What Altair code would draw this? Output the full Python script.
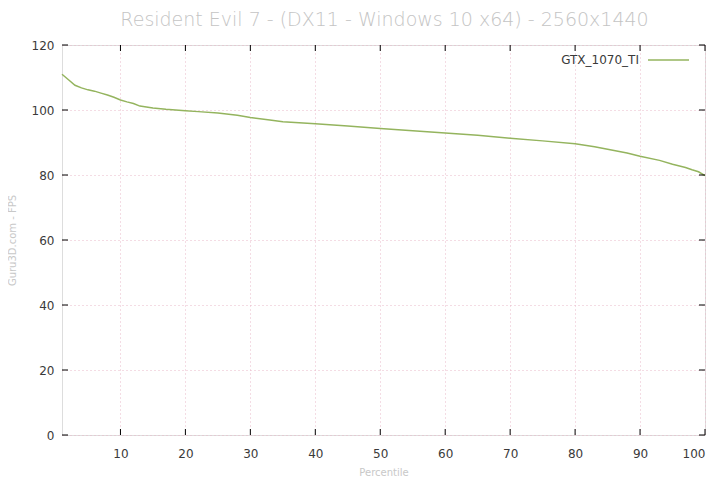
import altair as alt
import pandas as pd

percentile = [1, 2, 3, 4, 5, 6, 7, 8, 9, 10, 11, 12, 13, 15, 17, 20, 22, 25, 28, 30, 33, 35, 40, 45, 50, 55, 60, 65, 70, 75, 80, 83, 85, 88, 90, 93, 95, 97, 98, 99, 100]
fps = [111.0, 109.3, 107.6, 106.8, 106.2, 105.8, 105.2, 104.6, 103.9, 103.1, 102.5, 102.0, 101.2, 100.6, 100.2, 99.8, 99.5, 99.1, 98.4, 97.7, 96.9, 96.4, 95.8, 95.1, 94.3, 93.6, 92.9, 92.2, 91.3, 90.5, 89.6, 88.7, 87.9, 86.8, 85.8, 84.5, 83.3, 82.3, 81.6, 81.0, 79.8]
x_ticks = [10, 20, 30, 40, 50, 60, 70, 80, 90, 100]
y_ticks = [0, 20, 40, 60, 80, 100, 120]
series_name = "GTX_1070_TI"
title_text = "Resident Evil 7 - (DX11 - Windows 10 x64) - 2560x1440"

df = pd.DataFrame({"Percentile": percentile, "FPS": fps, "series": series_name})

W, H = 643, 390

axis_common = dict(
    grid=True,
    gridColor="#e8b8c8",
    gridDash=[1, 3],
    gridWidth=1,
    domain=False,
    ticks=False,
    labelColor="#3a3a3a",
    labelFont="DejaVu Sans",
    labelFontSize=12,
    titleColor="#c8c8c8",
    titleFont="DejaVu Sans",
    titleFontSize=10,
    titleFontWeight="normal",
)

xs = alt.Scale(domain=[1, 100], nice=False, zero=False)
ys = alt.Scale(domain=[0, 120], nice=False)

line = alt.Chart(df).mark_line(color="#94b45e", strokeWidth=1.5).encode(
    x=alt.X("Percentile:Q", scale=xs,
            axis=alt.Axis(values=x_ticks, title="Percentile", labelPadding=13,
                          titlePadding=8, **axis_common)),
    y=alt.Y("FPS:Q", scale=ys,
            axis=alt.Axis(values=y_ticks, title="Guru3D.com - FPS", labelPadding=8,
                          titlePadding=14, **axis_common)),
)

xt = pd.DataFrame({"v": x_ticks})
yt = pd.DataFrame({"v": y_ticks})
xtick_b = alt.Chart(xt).mark_rule(color="#000000").encode(
    x=alt.X("v:Q", scale=xs), y=alt.value(H), y2=alt.value(H - 6))
xtick_t = alt.Chart(xt).mark_rule(color="#000000").encode(
    x=alt.X("v:Q", scale=xs), y=alt.value(0), y2=alt.value(6))
ytick_l = alt.Chart(yt).mark_rule(color="#000000").encode(
    y=alt.Y("v:Q", scale=ys), x=alt.value(0), x2=alt.value(6))
ytick_r = alt.Chart(yt).mark_rule(color="#000000").encode(
    y=alt.Y("v:Q", scale=ys), x=alt.value(W), x2=alt.value(W - 6))

leg_df = pd.DataFrame({"label": [series_name]})
leg_text = alt.Chart(leg_df).mark_text(
    align="right", baseline="middle", font="DejaVu Sans", fontSize=12, color="#3a3a3a"
).encode(text="label:N", x=alt.value(577), y=alt.value(15))
leg_line = alt.Chart(leg_df).mark_rule(color="#94b45e", strokeWidth=1.5).encode(
    x=alt.value(586), x2=alt.value(627), y=alt.value(15)
)

title = alt.Chart(pd.DataFrame({"t": [title_text]})).mark_text(
    align="center", baseline="middle", font="DejaVu Sans", fontSize=19,
    fontWeight=300, color="#c4c4c4"
).encode(text="t:N", x=alt.value(W / 2 + 1), y=alt.value(-25))

chart = alt.layer(line, xtick_b, xtick_t, ytick_l, ytick_r, leg_text, leg_line, title).properties(
    width=W, height=H,
    autosize=alt.AutoSizeParams(type="none"),
    padding={"left": 54, "top": 37, "right": 10, "bottom": 41},
).configure_view(stroke="#000000", strokeWidth=1).configure(background="#ffffff")

chart.save("out.html", embed_options={"renderer": "svg", "actions": False})
